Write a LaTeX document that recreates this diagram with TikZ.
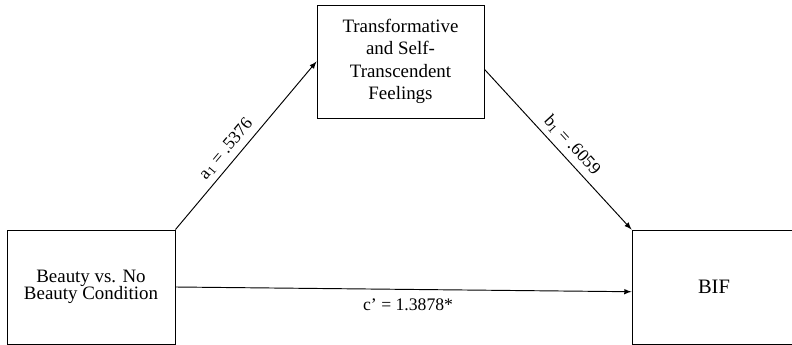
\documentclass[tikz,border=0pt]{standalone}
\usepackage{fontspec}
\setmainfont{Liberation Serif}
\usepackage{tikz}
\usetikzlibrary{calc}

\tikzset{
  varbox/.style = {draw, semithick, align=center, inner sep=2pt,
                   font=\fontsize{12}{14.3}\selectfont},
  path/.style   = {semithick, -latex},
  coef/.style   = {font=\fontsize{11.2}{13}\selectfont}
}

\begin{document}
\begin{tikzpicture}[x=0.0223cm, y=-0.0223cm]
    \useasboundingbox (0, 0) rectangle (792, 345);
    %画变量框
    \node[varbox, minimum width=3.746cm, minimum height=2.542cm,
          font=\fontsize{12}{11}\selectfont] (beauty) at (91, 287)
          {Beauty vs. No\\Beauty Condition};
    \node[varbox, minimum width=3.724cm, minimum height=2.52cm] (feel) at (400.5, 61.5)
          {Transformative\\and Self-\\Transcendent\\Feelings};
    \node[varbox, minimum width=3.657cm, minimum height=2.542cm,
          font=\fontsize{13}{15}\selectfont] (bif) at (714, 287)
          {BIF};
    %画路径
    \draw[path] (beauty.north east) -- (feel.west)
        node[coef, pos=0.43, above, sloped] {a\textsubscript{1} = .5376};
    \draw[path] ([yshift=-5pt]feel.east) -- (bif.north west)
        node[coef, pos=0.53, above, sloped] {b\textsubscript{1} = .6059};
    \draw[path] (beauty.east) -- ([yshift=-3pt]bif.west)
        node[coef, pos=0.51, below=2pt] {c’ = 1.3878*};
\end{tikzpicture}
\end{document}
